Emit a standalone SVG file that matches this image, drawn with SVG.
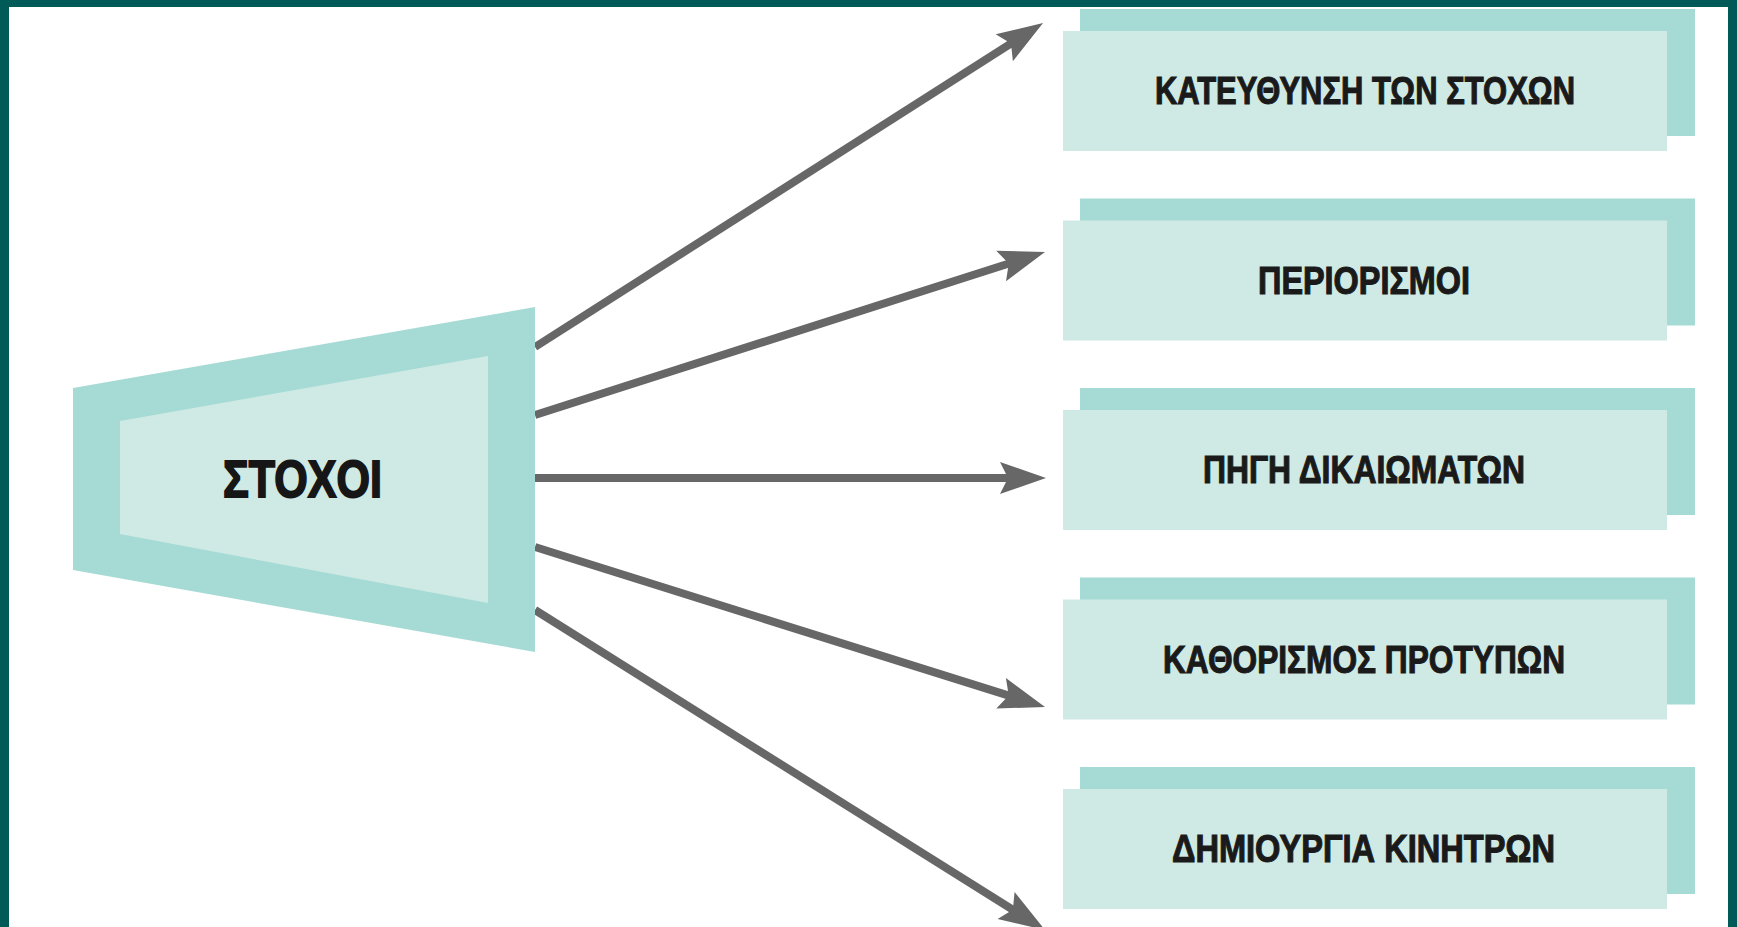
<svg xmlns="http://www.w3.org/2000/svg" width="1737" height="927" viewBox="0 0 1737 927">
<style>
.frame{fill:#005a57}
.outer{fill:#a6dbd5}
.inner{fill:#cfeae5}
.back{fill:#a6dbd5}
.front{fill:#cfeae5}
.lbl{font-family:"Liberation Sans","DejaVu Sans",sans-serif;font-weight:bold;font-size:38px;fill:#1a1a1a;stroke:#1a1a1a;stroke-width:1.1}
.main{font-family:"Liberation Sans","DejaVu Sans",sans-serif;font-weight:bold;font-size:51px;fill:#161616;stroke:#161616;stroke-width:1.8}
.conn{stroke:#676767;stroke-width:8;fill:none;marker-end:url(#ah)}
</style>
<defs>
<marker id="ah" markerUnits="userSpaceOnUse" viewBox="0 -18 48 36" markerWidth="48" markerHeight="36" refX="24" refY="0" orient="auto">
<path d="M0,-16 L46,0 L0,16 L8,0 Z" fill="#676767"/>
</marker>
</defs>
<rect width="1737" height="927" fill="#ffffff"/>
<g id="frame">
<rect class="frame" x="0" y="0" width="1737" height="7"/>
<rect class="frame" x="0" y="0" width="9" height="927"/>
<rect class="frame" x="1728" y="0" width="9" height="927"/>
</g>
<g id="connectors">
<line class="conn" x1="535" y1="347" x2="1024.5" y2="34.8"/>
<line class="conn" x1="535" y1="415" x2="1024" y2="258.7"/>
<line class="conn" x1="535" y1="478" x2="1024" y2="478"/>
<line class="conn" x1="535" y1="547" x2="1024" y2="700.4"/>
<line class="conn" x1="535" y1="610" x2="1026.4" y2="918.3"/>
</g>
<g id="node-stoxoi">
<polygon class="outer" points="73,388 535,307 535,652 73,570"/>
<polygon class="inner" points="120,421 488,356 488,603 120,534"/>
<text class="main" x="223" y="497" textLength="159" lengthAdjust="spacingAndGlyphs">ΣΤΟΧΟΙ</text>
</g>
<g id="node-1">
<rect class="back" x="1080" y="9" width="615" height="127"/>
<rect class="front" x="1063" y="31" width="604" height="120"/>
<text class="lbl" x="1155" y="104" textLength="420" lengthAdjust="spacingAndGlyphs">ΚΑΤΕΥΘΥΝΣΗ ΤΩΝ ΣΤΟΧΩΝ</text>
</g>
<g id="node-2">
<rect class="back" x="1080" y="198.5" width="615" height="127"/>
<rect class="front" x="1063" y="220.5" width="604" height="120"/>
<text class="lbl" x="1258" y="293.5" textLength="212" lengthAdjust="spacingAndGlyphs">ΠΕΡΙΟΡΙΣΜΟΙ</text>
</g>
<g id="node-3">
<rect class="back" x="1080" y="388" width="615" height="127"/>
<rect class="front" x="1063" y="410" width="604" height="120"/>
<text class="lbl" x="1203" y="483" textLength="322" lengthAdjust="spacingAndGlyphs">ΠΗΓΗ ΔΙΚΑΙΩΜΑΤΩΝ</text>
</g>
<g id="node-4">
<rect class="back" x="1080" y="577.5" width="615" height="127"/>
<rect class="front" x="1063" y="599.5" width="604" height="120"/>
<text class="lbl" x="1163" y="672.5" textLength="402" lengthAdjust="spacingAndGlyphs">ΚΑΘΟΡΙΣΜΟΣ ΠΡΟΤΥΠΩΝ</text>
</g>
<g id="node-5">
<rect class="back" x="1080" y="767" width="615" height="127"/>
<rect class="front" x="1063" y="789" width="604" height="120"/>
<text class="lbl" x="1172" y="862" textLength="383" lengthAdjust="spacingAndGlyphs">ΔΗΜΙΟΥΡΓΙΑ ΚΙΝΗΤΡΩΝ</text>
</g>
</svg>
